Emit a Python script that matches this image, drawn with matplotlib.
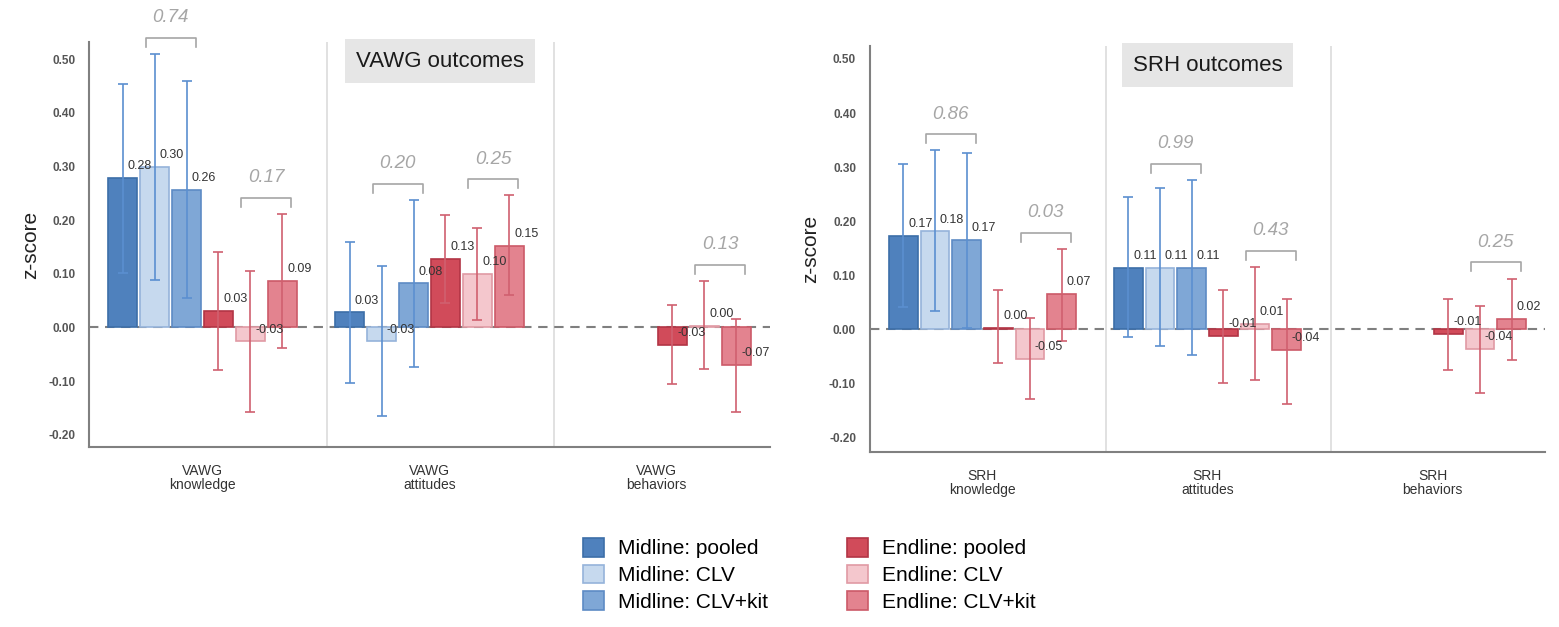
import numpy as np
import matplotlib
matplotlib.use("Agg")
import matplotlib.pyplot as plt
from matplotlib.patches import Patch

plt.rcParams['font.family'] = ['Liberation Sans', 'DejaVu Sans']
plt.rcParams['axes.unicode_minus'] = False

nan = np.nan

# series / colours
series = ['Midline: pooled', 'Midline: CLV', 'Midline: CLV+kit',
          'Endline: pooled', 'Endline: CLV', 'Endline: CLV+kit']
fills = ['#4f81bd', '#c6d9ee', '#7fa7d6', '#d14b5a', '#f4c7cd', '#e3838f']
edges = ['#3c6ea8', '#95b3da', '#5d8bc5', '#b23545', '#e09aa4', '#cc5a68']
err_cols = ['#5b8fd0', '#5b8fd0', '#5b8fd0', '#d0606f', '#d0606f', '#d0606f']

# VAWG panel
vawg_cats = ['VAWG\nknowledge', 'VAWG\nattitudes', 'VAWG\nbehaviors']
vawg_mid_pooled = [0.278, 0.028, nan]
vawg_mid_clv = [0.299, -0.026, nan]
vawg_mid_kit = [0.256, 0.082, nan]
vawg_end_pooled = [0.030, 0.127, -0.033]
vawg_end_clv = [-0.026, 0.099, 0.003]
vawg_end_kit = [0.086, 0.152, -0.070]

vawg_lo = [[0.102, -0.104, nan], [0.089, -0.165, nan], [0.054, -0.073, nan],
           [-0.080, 0.045, -0.106], [-0.157, 0.014, -0.078], [-0.038, 0.061, -0.157]]
vawg_hi = [[0.454, 0.160, nan], [0.510, 0.114, nan], [0.459, 0.238, nan],
           [0.140, 0.209, 0.041], [0.106, 0.186, 0.087], [0.212, 0.246, 0.015]]
vawg_p_mid = ['0.74', '0.20', None]
vawg_p_end = ['0.17', '0.25', '0.13']

# SRH panel
srh_cats = ['SRH\nknowledge', 'SRH\nattitudes', 'SRH\nbehaviors']
srh_mid_pooled = [0.172, 0.114, nan]
srh_mid_clv = [0.181, 0.114, nan]
srh_mid_kit = [0.166, 0.114, nan]
srh_end_pooled = [0.003, -0.012, -0.009]
srh_end_clv = [-0.054, 0.010, -0.037]
srh_end_kit = [0.066, -0.038, 0.019]

srh_lo = [[0.041, -0.014, nan], [0.034, -0.031, nan], [0.002, -0.048, nan],
          [-0.063, -0.100, -0.075], [-0.129, -0.093, -0.117], [-0.022, -0.138, -0.057]]
srh_hi = [[0.305, 0.244, nan], [0.331, 0.261, nan], [0.326, 0.276, nan],
          [0.072, 0.072, 0.057], [0.021, 0.115, 0.043], [0.149, 0.057, 0.094]]
srh_p_mid = ['0.86', '0.99', None]
srh_p_end = ['0.03', '0.43', '0.25']

yticks = [-0.20, -0.10, 0.00, 0.10, 0.20, 0.30, 0.40, 0.50]

slot = 0.1407
bw = 0.127


def draw_panel(ax, cats, vals, lo, hi, p_mid, p_end, title, title_x, ylim):
    x = np.arange(len(cats))
    ax.axhline(0, color='#7f7f7f', lw=1.5, ls=(0, (4.5, 3.2)), zorder=1)
    for sep in [0.55, 1.55]:
        ax.axvline(sep, color='#dcdcdc', lw=1.2, zorder=0)
    for i in range(6):
        v = np.array(vals[i], dtype=float)
        l = np.array(lo[i], dtype=float)
        h = np.array(hi[i], dtype=float)
        xs = x + (i - 2.5) * slot
        ax.bar(xs, v, width=bw, color=fills[i], edgecolor=edges[i], lw=1.2, zorder=2)
        ax.errorbar(xs, v, yerr=[v - l, h - v], fmt='none', ecolor=err_cols[i],
                    elinewidth=1.2, capsize=3.3, capthick=1.2, zorder=3)
        for xi, vi in zip(xs, v):
            if np.isnan(vi):
                continue
            ax.text(xi + 0.022, vi + 0.022, f"{vi:.2f}", ha='left', va='center',
                    fontsize=9, color='#333333', zorder=4)
    # p-value brackets
    for j in range(len(cats)):
        for pv, first in [(p_mid[j], 1), (p_end[j], 4)]:
            if pv is None:
                continue
            xc = x[j] + (first + 0.5 - 2.5) * slot
            top = max(hi[first][j], hi[first + 1][j]) + 0.03
            ax.plot([xc - 0.11, xc - 0.11, xc + 0.11, xc + 0.11],
                    [top - 0.017, top, top, top - 0.017],
                    color='#a6a6a6', lw=1.2, clip_on=False, zorder=4)
            ax.text(xc, top + 0.037, pv, ha='center', va='center', fontsize=13.5,
                    style='italic', color='#a6a6a6', clip_on=False)
    ax.text(title_x, 0.953, title, transform=ax.transAxes, ha='center', va='center',
            fontsize=16, color='#1a1a1a',
            bbox=dict(boxstyle='square,pad=0.5', fc='#e6e6e6', ec='none'))
    ax.set_xlim(-0.5, 2.5)
    ax.set_ylim(*ylim)
    ax.set_yticks(yticks)
    ax.set_yticklabels([f"{t:.2f}" for t in yticks], fontsize=8.5, fontweight='bold',
                       color='#555555')
    ax.set_xticks(x)
    ax.set_xticklabels(cats, fontsize=10, color='#333333', linespacing=1.0)
    ax.tick_params(axis='both', length=0)
    ax.tick_params(axis='y', pad=10)
    ax.tick_params(axis='x', pad=12)
    ax.set_ylabel('z-score', fontsize=15, color='#222222', labelpad=6)
    for s in ['top', 'right']:
        ax.spines[s].set_visible(False)
    for s in ['left', 'bottom']:
        ax.spines[s].set_color('#808080')
        ax.spines[s].set_linewidth(1.5)


fig = plt.figure(figsize=(15.59, 6.27), dpi=100)
ax1 = fig.add_axes([0.0571, 0.2871, 0.4368, 0.6459])
ax2 = fig.add_axes([0.558, 0.279, 0.433, 0.6476])

draw_panel(ax1, vawg_cats,
           [vawg_mid_pooled, vawg_mid_clv, vawg_mid_kit, vawg_end_pooled, vawg_end_clv, vawg_end_kit],
           vawg_lo, vawg_hi, vawg_p_mid, vawg_p_end, 'VAWG outcomes', 0.515, (-0.223, 0.532))
draw_panel(ax2, srh_cats,
           [srh_mid_pooled, srh_mid_clv, srh_mid_kit, srh_end_pooled, srh_end_clv, srh_end_kit],
           srh_lo, srh_hi, srh_p_mid, srh_p_end, 'SRH outcomes', 0.50, (-0.227, 0.524))

handles = [Patch(facecolor=fills[i], edgecolor=edges[i], lw=1.2) for i in range(6)]
fig.legend(handles, series, ncol=2, loc='upper left', bbox_to_anchor=(0.374, 0.142),
           frameon=False, fontsize=15, handlelength=1.0, handleheight=1.0,
           handletextpad=0.67, labelspacing=0.3, columnspacing=3.8,
           borderpad=0, borderaxespad=0)

fig.savefig('out.png', dpi=100)
